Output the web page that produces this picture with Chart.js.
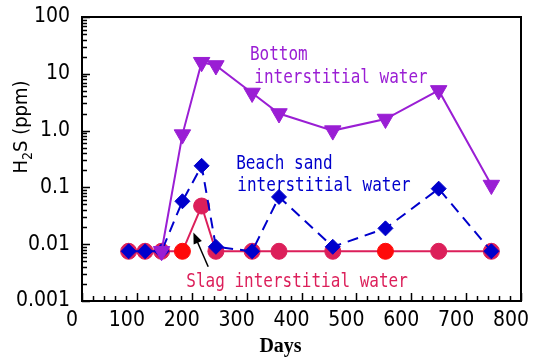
<!doctype html>
<html lang="en">
<head>
<meta charset="utf-8">
<title>H2S in interstitial water</title>
<script src="https://cdn.jsdelivr.net/npm/chart.js@4.4.0/dist/chart.umd.min.js"></script>
<style>
  body { margin: 0; background: #fff; }
  #wrap { width: 536px; height: 358px; }
</style>
</head>
<body>
<div id="wrap"><canvas id="chart" width="536" height="358"></canvas></div>
<script>
// values (days, ppm)
const days        = [85, 115, 145, 183, 218, 244, 310, 359, 457, 553, 650, 746];
const bottomWater = [null, null, 0.0075, 0.85, 16, 14, 4.6, 2.0, 1.0, 1.6, 5.1, 0.11];
const beachSand   = [0.0075, 0.0075, 0.0075, 0.057, 0.24, 0.009, 0.0075, 0.068, 0.009, 0.019, 0.095, 0.0075];
const slagWater   = [0.0075, 0.0075, 0.0075, 0.0075, 0.047, 0.0075, 0.0075, 0.0075, 0.0075, 0.0075, 0.0075, 0.0075];

const xLabels = ['0', '100', '200', '300', '400', '500', '600', '700', '800'];
const yDecades = [0.001, 0.01, 0.1, 1, 10, 100];
const yLabels  = ['0.001', '0.01', '0.1', '1.0', '10', '100'];

const PURPLE = '#9A1ED4';
const BLUE = '#0000CC';
const CRIMSON = '#DC1F5A';
const RED = '#FF0A0A';
const slagColors = slagWater.map((v, i) => (i === 3 || i === 9) ? RED : CRIMSON);

// annotation labels, placed in data coordinates
const notes = [
  { text: 'Bottom', day: 306, val: 21.5, color: PURPLE },
  { text: 'interstitial water', day: 314, val: 8.5, color: PURPLE },
  { text: 'Beach sand', day: 281, val: 0.26, color: BLUE },
  { text: 'interstitial water', day: 283, val: 0.105, color: BLUE },
  { text: 'Slag interstitial water', day: 190, val: 0.0022, color: CRIMSON }
];
const arrow = { from: [230, 0.0040], to: [203, 0.016] };

const tickFont = { family: "'Liberation Sans Narrow', 'DejaVu Sans Condensed', sans-serif", size: 21 };

const decor = {
  id: 'decor',
  afterDraw(chart) {
    const ctx = chart.ctx;
    const a = chart.chartArea;
    const xs = chart.scales.x, ys = chart.scales.y;
    ctx.save();
    // inward ticks
    ctx.strokeStyle = '#000';
    ctx.lineWidth = 1.5;
    ctx.beginPath();
    xs.ticks.forEach(t => {
      const px = Math.round(xs.getPixelForValue(t.value)) + 0.5;
      const len = t.value % 100 === 0 ? 8 : 5;
      ctx.moveTo(px, a.bottom);
      ctx.lineTo(px, a.bottom - len);
    });
    ys.ticks.forEach(t => {
      const py = Math.round(ys.getPixelForValue(t.value)) + 0.5;
      const lg = Math.log10(t.value);
      const len = Math.abs(lg - Math.round(lg)) < 1e-6 ? 8 : 5;
      ctx.moveTo(a.left, py);
      ctx.lineTo(a.left + len, py);
    });
    ctx.stroke();
    // frame
    ctx.lineWidth = 2;
    ctx.strokeRect(a.left, a.top, a.right - a.left, a.bottom - a.top);

    // annotations
    ctx.font = "16px 'DejaVu Sans Mono', 'Liberation Mono', monospace";
    ctx.textBaseline = 'middle';
    ctx.textAlign = 'left';
    notes.forEach(n => {
      const px = xs.getPixelForValue(n.day), py = ys.getPixelForValue(n.val);
      ctx.save();
      ctx.translate(px, py);
      ctx.scale(1, 1.2);
      ctx.fillStyle = n.color;
      ctx.fillText(n.text, 0, 0);
      ctx.restore();
    });

    // arrow
    const x1 = xs.getPixelForValue(arrow.from[0]), y1 = ys.getPixelForValue(arrow.from[1]);
    const x2 = xs.getPixelForValue(arrow.to[0]), y2 = ys.getPixelForValue(arrow.to[1]);
    const ang = Math.atan2(y2 - y1, x2 - x1);
    ctx.strokeStyle = '#000';
    ctx.fillStyle = '#000';
    ctx.lineWidth = 1.5;
    ctx.beginPath();
    ctx.moveTo(x1, y1);
    ctx.lineTo(x2 - 8 * Math.cos(ang), y2 - 8 * Math.sin(ang));
    ctx.stroke();
    ctx.beginPath();
    ctx.moveTo(x2, y2);
    ctx.lineTo(x2 - 11 * Math.cos(ang) + 4.5 * Math.sin(ang), y2 - 11 * Math.sin(ang) - 4.5 * Math.cos(ang));
    ctx.lineTo(x2 - 11 * Math.cos(ang) - 4.5 * Math.sin(ang), y2 - 11 * Math.sin(ang) + 4.5 * Math.cos(ang));
    ctx.closePath();
    ctx.fill();

    // axis titles
    ctx.fillStyle = '#000';
    ctx.textAlign = 'center';
    ctx.font = "bold 20px 'Liberation Serif', serif";
    ctx.fillText('Days', (a.left + a.right) / 2 - 21, a.bottom + 46);

    ctx.translate(22, (a.top + a.bottom) / 2 - 32);
    ctx.rotate(-Math.PI / 2);
    const f1 = "20px 'Liberation Sans Narrow', 'DejaVu Sans Condensed', sans-serif";
    const f2 = "14px 'Liberation Sans Narrow', 'DejaVu Sans Condensed', sans-serif";
    ctx.font = f1;
    const wH = ctx.measureText('H').width, wR = ctx.measureText('S (ppm)').width;
    ctx.font = f2;
    const w2 = ctx.measureText('2').width;
    let x0 = -(wH + w2 + wR) / 2;
    ctx.textAlign = 'left';
    ctx.font = f1;
    ctx.fillText('H', x0, 0);
    ctx.font = f2;
    ctx.fillText('2', x0 + wH, 6);
    ctx.font = f1;
    ctx.fillText('S (ppm)', x0 + wH + w2, 0);
    ctx.restore();
  }
};

const pts = (ys) => days.map((d, i) => ({ x: d, y: ys[i] }));

new Chart(document.getElementById('chart'), {
  type: 'line',
  data: {
    datasets: [
      {
        label: 'Bottom interstitial water',
        data: pts(bottomWater),
        borderColor: PURPLE,
        backgroundColor: PURPLE,
        borderWidth: 2,
        pointStyle: 'triangle',
        rotation: 180,
        pointRadius: 9.5,
        pointBorderWidth: 1,
        spanGaps: false
      },
      {
        label: 'Beach sand interstitial water',
        data: pts(beachSand),
        borderColor: BLUE,
        backgroundColor: BLUE,
        borderWidth: 2,
        borderDash: [11, 7],
        pointStyle: 'rectRot',
        pointRadius: 7.5,
        pointBorderWidth: 1
      },
      {
        label: 'Slag interstitial water',
        data: pts(slagWater),
        borderColor: CRIMSON,
        backgroundColor: CRIMSON,
        pointBackgroundColor: slagColors,
        pointBorderColor: slagColors,
        borderWidth: 2,
        pointStyle: 'circle',
        pointRadius: 8,
        pointBorderWidth: 1
      }
    ]
  },
  options: {
    responsive: false,
    animation: false,
    layout: { padding: { left: 0, top: 17, right: 15, bottom: 0 } },
    plugins: { legend: { display: false }, tooltip: { enabled: false } },
    scales: {
      x: {
        type: 'linear',
        min: 0,
        max: 800,
        afterBuildTicks: (s) => {
          const t = [];
          for (let v = 0; v <= 800; v += 20) t.push({ value: v });
          s.ticks = t;
        },
        afterFit: (s) => { s.height = 57; s.paddingLeft = 0; s.paddingRight = 0; },
        grid: { display: false, drawTicks: false },
        border: { display: false },
        ticks: {
          autoSkip: false,
          maxRotation: 0,
          padding: 7,
          labelOffset: -10,
          color: '#000',
          font: tickFont,
          callback: (v) => v % 100 === 0 ? xLabels[v / 100] : ''
        }
      },
      y: {
        type: 'logarithmic',
        min: 0.001,
        max: 100,
        afterBuildTicks: (s) => {
          const t = [];
          yDecades.forEach((d, i) => {
            for (let m = 1; m <= (i === yDecades.length - 1 ? 1 : 9); m++) t.push({ value: m * d });
          });
          s.ticks = t;
        },
        afterFit: (s) => { s.width = 82; s.paddingTop = 0; s.paddingBottom = 0; },
        grid: { display: false, drawTicks: false },
        border: { display: false },
        ticks: {
          autoSkip: false,
          padding: 12,
          color: '#000',
          font: tickFont,
          callback: (v) => {
            const lg = Math.log10(v);
            if (Math.abs(lg - Math.round(lg)) > 1e-6) return '';
            return yLabels[Math.round(lg) + 3];
          }
        }
      }
    }
  },
  plugins: [decor]
});
</script>
</body>
</html>
